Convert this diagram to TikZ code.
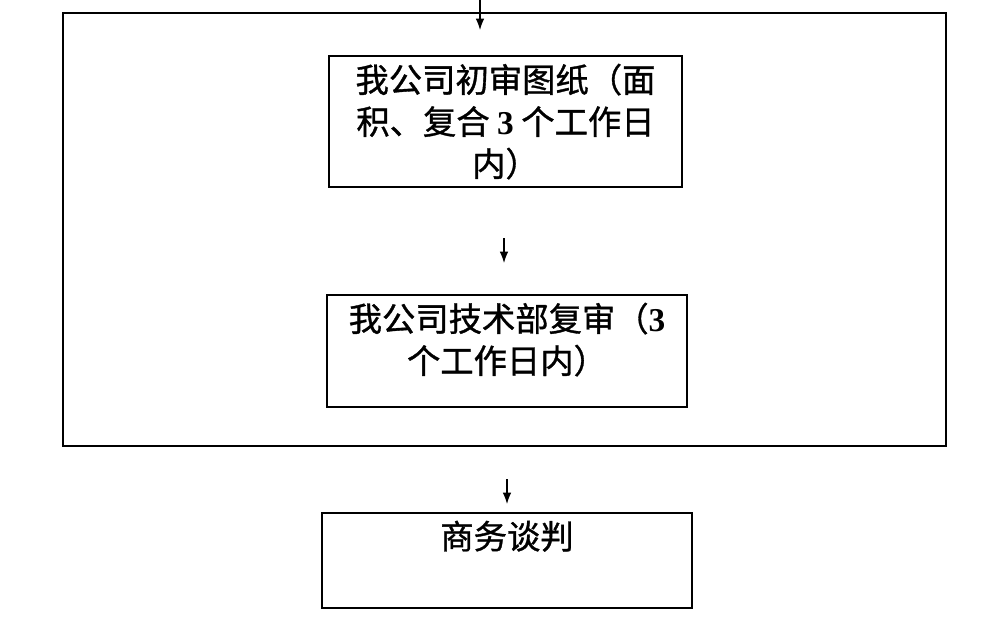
\documentclass[tikz,border=0pt]{standalone}
\usepackage{fontspec}
\setmainfont{Liberation Serif}
\newfontfamily\cjk[FakeBold=1]{Noto Sans CJK SC}
\usetikzlibrary{arrows.meta}

\tikzset{
  stepbox/.style={draw, line width=0.8pt, inner sep=0pt},
  steptext/.style={anchor=north, inner sep=0pt, align=center, font=\cjk\fontsize{25}{31.5}\selectfont},
  flow/.style={line width=0.9pt, -{Latex[length=8.5pt,width=6.5pt]}}
}
\newcommand{\num}[1]{{\rmfamily\bfseries #1}}

\begin{document}
\begin{tikzpicture}[x=0.75pt,y=0.75pt,yscale=-1,xscale=1]
    \useasboundingbox (0,0) rectangle (1000,628);
    % outer frame
    \node [stepbox, minimum width=662.25pt, minimum height=324.75pt] (frame) at (504.5,229.5) {};
    % boxes
    \node [stepbox, minimum width=264.75pt, minimum height=98.25pt] (first) at (505.5,121.5) {};
    \node [stepbox, minimum width=270pt, minimum height=84pt] (second) at (507,351) {};
    \node [stepbox, minimum width=277.5pt, minimum height=71.25pt] (talks) at (507,560.5) {};
    % texts
    \node [steptext] (firsttext) at ([yshift=6pt]first.north) {我公司初审图纸（面\\积、复合\ \num{3}\ 个工作日\\内）};
    \node [steptext] (secondtext) at ([yshift=6pt]second.north) {我公司技术部复审（\num{3}\\个工作日内）};
    \node [steptext] (talkstext) at ([yshift=6pt]talks.north) {商务谈判};
    % arrows
    \coordinate (in) at (480,0);
    \coordinate (inend) at (480,30);
    \coordinate (mid) at (504,238);
    \coordinate (midend) at (504,263);
    \coordinate (out) at (507,479);
    \coordinate (outend) at (507,504);
    \draw [flow] (in) -- (inend);
    \draw [flow] (mid) -- (midend);
    \draw [flow] (out) -- (outend);
\end{tikzpicture}
\end{document}
